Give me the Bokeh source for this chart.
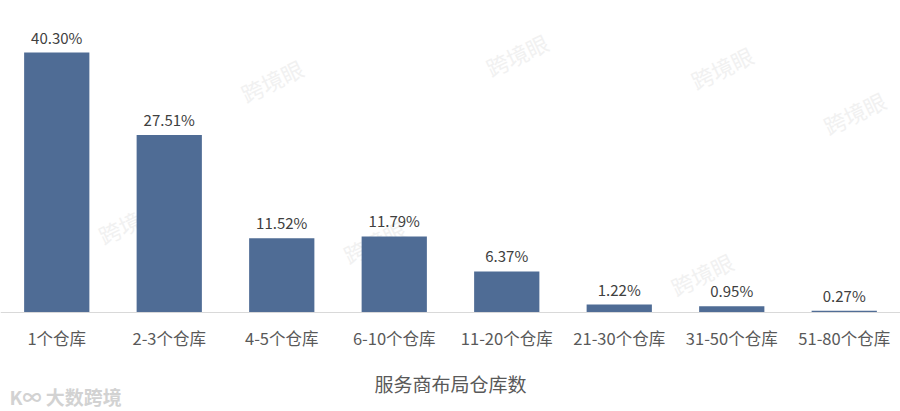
from bokeh.plotting import figure
from bokeh.models import Range1d, ColumnDataSource, Label, Span
from bokeh.core.properties import value
from bokeh.embed import file_html
from bokeh.resources import INLINE

# Share of service providers by number of warehouses operated
categories = ["1个仓库", "2-3个仓库", "4-5个仓库", "6-10个仓库",
              "11-20个仓库", "21-30个仓库", "31-50个仓库", "51-80个仓库"]
shares = [40.30, 27.51, 11.52, 11.79, 6.37, 1.22, 0.95, 0.27]
share_labels = ["40.30%", "27.51%", "11.52%", "11.79%", "6.37%", "1.22%", "0.95%", "0.27%"]
x_title = "服务商布局仓库数"
brand = "K∞ 大数跨境"
mark_text = "跨境眼"

FONT = "Noto Sans CJK SC"
BAR = "#4f6c95"

src = ColumnDataSource(dict(cat=categories, val=shares, lab=share_labels))

# the frame fills the whole canvas; negative y holds the category labels
p = figure(x_range=categories, y_range=Range1d(-15.35, 48.37),
           width=900, height=411, output_backend="svg", toolbar_location=None,
           min_border=0)
p.x_range.range_padding = 0
p.outline_line_color = None
p.background_fill_color = "white"
p.border_fill_color = "white"
p.grid.visible = False
p.axis.visible = False

# faint brand watermarks scattered across the canvas
wm = ColumnDataSource(dict(
    x=[categories[2], categories[4], categories[6], categories[7], categories[1], categories[3], categories[6]],
    y=[36, 40, 38, 31, 14, 11, 6],
    xo=[-10, 10, -10, 10, -40, -20, -30],
))
p.text(x="x", y="y", x_offset="xo", source=wm, text=value(mark_text),
       text_font=value(FONT), text_font_size="22px", text_color="#f1f1f1",
       angle=0.45, text_align="center", text_baseline="middle")

p.vbar(x="cat", top="val", width=0.58, source=src, color=BAR, line_color=None)

# baseline
p.add_layout(Span(location=0, dimension="width", line_color="#d9d9d9", line_width=1))

# value labels
p.text(x="cat", y="val", text="lab", source=src, y_offset=-5,
       text_font=value(FONT), text_font_size="15px", text_color="#404040",
       text_align="center", text_baseline="bottom")

# category labels under the baseline
p.text(x="cat", y=0, text="cat", source=src, y_offset=26,
       text_font=value(FONT), text_font_size="16.5px", text_color="#595959",
       text_align="center", text_baseline="middle")

# axis title
p.add_layout(Label(x=450, y=28, x_units="screen", y_units="screen", text=x_title,
                   text_font=FONT, text_font_size="19px", text_color="#595959",
                   text_align="center", text_baseline="middle"))

# corner brand mark
p.add_layout(Label(x=9, y=15, x_units="screen", y_units="screen", text=brand,
                   text_font=FONT, text_font_size="19px", text_color="#d2d2d2",
                   text_font_style="bold", text_baseline="middle"))

open("out.html", "w").write(file_html(p, INLINE))
